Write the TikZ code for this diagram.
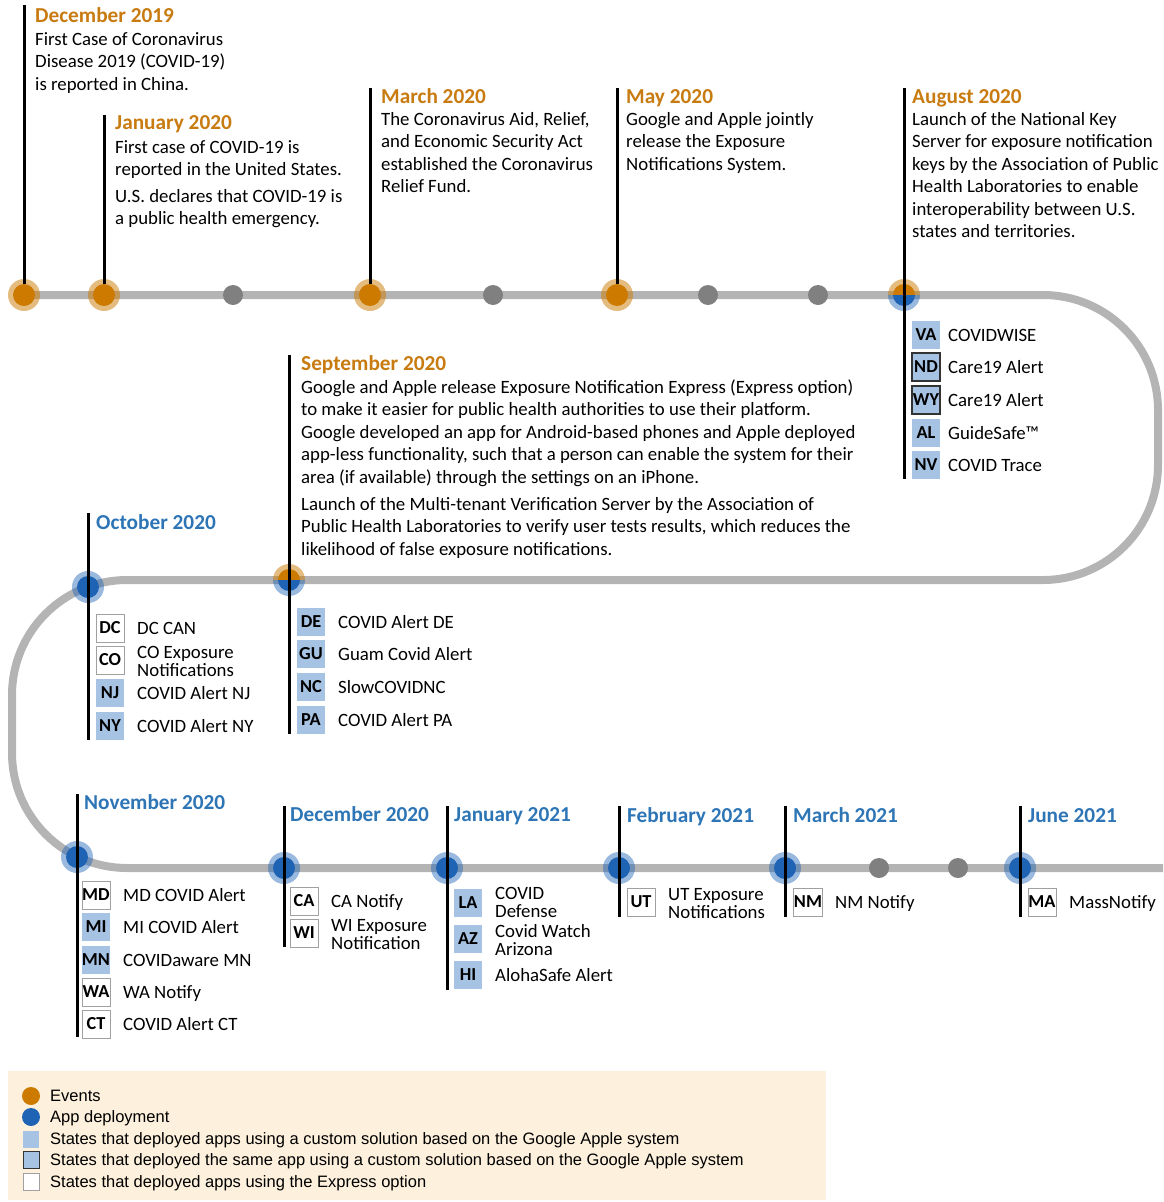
\documentclass[tikz,border=0pt]{standalone}
\usepackage{fontspec}
\setmainfont{Carlito}
\newfontfamily\legfont{Liberation Sans}
\definecolor{evorange}{RGB}{204,122,0}
\definecolor{hdorange}{RGB}{200,123,16}
\definecolor{depblue}{RGB}{31,99,181}
\definecolor{hdblue}{RGB}{46,117,182}
\definecolor{trackgray}{RGB}{180,180,180}
\definecolor{dotgray}{RGB}{128,128,128}
\definecolor{statefill}{RGB}{167,195,228}
\definecolor{expborder}{RGB}{160,160,160}
\definecolor{legbg}{RGB}{253,240,220}
\tikzset{
 body/.style={anchor=base west, inner sep=0pt, font=\fontsize{18.8}{22.5}\selectfont},
 hdo/.style={anchor=base west, inner sep=0pt, font=\fontsize{21.3}{25}\selectfont\bfseries, text=hdorange},
 hdb/.style={anchor=base west, inner sep=0pt, font=\fontsize{21.3}{25}\selectfont\bfseries, text=hdblue},
 stemline/.style={line width=3pt, black},
 track/.style={line width=8pt, trackgray, rounded corners=115pt},
 evhalo/.style={circle, fill=evorange, fill opacity=0.5, minimum size=32pt, inner sep=0pt},
 evdot/.style={circle, fill=evorange, minimum size=22pt, inner sep=0pt},
 dphalo/.style={circle, fill=depblue, fill opacity=0.45, minimum size=32pt, inner sep=0pt},
 dpdot/.style={circle, fill=depblue, minimum size=22pt, inner sep=0pt},
 gdot/.style={circle, fill=dotgray, minimum size=20pt, inner sep=0pt},
 stbase/.style={minimum width=28pt, minimum height=28pt, inner sep=0pt, font=\fontsize{18.3}{20}\selectfont\bfseries},
 custom/.style={stbase, fill=statefill},
 sameapp/.style={stbase, fill=statefill, draw=black!80, line width=1.3pt},
 express/.style={stbase, fill=white, draw=expborder, line width=1pt},
 appname/.style={anchor=base west, inner sep=0pt, font=\fontsize{18.8}{18}\selectfont},
 legtext/.style={anchor=base west, inner sep=0pt, font=\legfont\fontsize{16.5}{18}\selectfont},
}
\begin{document}
\begin{tikzpicture}[x=1pt, y=-1pt]
\useasboundingbox (0,0) rectangle (1163,1202);
% track
\draw[track] (24,295) -- (1158,295) -- (1158,580) -- (12,580) -- (12,868) -- (1163,868);

% halos
\node[evhalo] (hDec19) at (24,295) {};
\node[evhalo] (hJan20) at (104,295) {};
\node[evhalo] (hMar20) at (370,295) {};
\node[evhalo] (hMay20) at (617,295) {};
\fill[evorange, opacity=0.5] (904,295) ++(16,0) arc[start angle=0, end angle=-180, radius=16] -- cycle;
\fill[depblue, opacity=0.45] (904,295) ++(16,0) arc[start angle=0, end angle=180, radius=16] -- cycle;
\fill[evorange, opacity=0.5] (289,580) ++(16,0) arc[start angle=0, end angle=-180, radius=16] -- cycle;
\fill[depblue, opacity=0.45] (289,580) ++(16,0) arc[start angle=0, end angle=180, radius=16] -- cycle;
\node[dphalo] (hOct20) at (88,587) {};
\node[dphalo] (hNov20) at (77,857) {};
\node[dphalo] (hDec20) at (284,868) {};
\node[dphalo] (hJan21) at (447,868) {};
\node[dphalo] (hFeb21) at (619,868) {};
\node[dphalo] (hMar21) at (785,868) {};
\node[dphalo] (hJun21) at (1020,868) {};

% inner dots
\node[evdot] (dDec19) at (24,295) {};
\node[evdot] (dJan20) at (104,295) {};
\node[evdot] (dMar20) at (370,295) {};
\node[evdot] (dMay20) at (617,295) {};
\coordinate (dAug20) at (904,295);
\fill[evorange] (dAug20) ++(11,0) arc[start angle=0, end angle=-180, radius=11] -- cycle;
\fill[depblue] (dAug20) ++(11,0) arc[start angle=0, end angle=180, radius=11] -- cycle;
\coordinate (dSep20) at (289,580);
\fill[evorange] (dSep20) ++(11,0) arc[start angle=0, end angle=-180, radius=11] -- cycle;
\fill[depblue] (dSep20) ++(11,0) arc[start angle=0, end angle=180, radius=11] -- cycle;
\node[dpdot] (dOct20) at (88,587) {};
\node[dpdot] (dNov20) at (77,857) {};
\node[dpdot] (dDec20) at (284,868) {};
\node[dpdot] (dJan21) at (447,868) {};
\node[dpdot] (dFeb21) at (619,868) {};
\node[dpdot] (dMar21) at (785,868) {};
\node[dpdot] (dJun21) at (1020,868) {};
% gray dots
\node[gdot] (g1) at (233,295) {};
\node[gdot] (g2) at (493,295) {};
\node[gdot] (g3) at (708,295) {};
\node[gdot] (g4) at (818,295) {};
\node[gdot] (g5) at (879,868) {};
\node[gdot] (g6) at (958,868) {};

% stems
\coordinate (tDec19) at (24,5);
\coordinate (tJan20) at (104,115);
\coordinate (tMar20) at (370,88);
\coordinate (tMay20) at (617,88);
\coordinate (tAug20) at (904,88);   \coordinate (bAug20) at (904,479);
\coordinate (tSep20) at (289,355);  \coordinate (bSep20) at (289,734);
\coordinate (tOct20) at (88,513);   \coordinate (bOct20) at (88,740);
\coordinate (tNov20) at (77,794);   \coordinate (bNov20) at (77,1037);
\coordinate (tDec20) at (284,806);  \coordinate (bDec20) at (284,947);
\coordinate (tJan21) at (447,806);  \coordinate (bJan21) at (447,990);
\coordinate (tFeb21) at (619,806);  \coordinate (bFeb21) at (619,917);
\coordinate (tMar21) at (785,806);  \coordinate (bMar21) at (785,917);
\coordinate (tJun21) at (1020,806); \coordinate (bJun21) at (1020,917);
\draw[stemline] (tDec19) -- (dDec19.north);
\draw[stemline] (tJan20) -- (dJan20.north);
\draw[stemline] (tMar20) -- (dMar20.north);
\draw[stemline] (tMay20) -- (dMay20.north);
\draw[stemline] (tAug20) -- (dAug20) -- (bAug20);
\draw[stemline] (tSep20) -- (dSep20) -- (bSep20);
\draw[stemline] (tOct20) -- (dOct20.center) -- (bOct20);
\draw[stemline] (tNov20) -- (dNov20.center) -- (bNov20);
\draw[stemline] (tDec20) -- (dDec20.center) -- (bDec20);
\draw[stemline] (tJan21) -- (dJan21.center) -- (bJan21);
\draw[stemline] (tFeb21) -- (dFeb21.center) -- (bFeb21);
\draw[stemline] (tMar21) -- (dMar21.center) -- (bMar21);
\draw[stemline] (tJun21) -- (dJun21.center) -- (bJun21);

% ---- event texts
\node[hdo] (hdDec19) at (35,22) {December 2019};
\node[body] at (35,45) {First Case of Coronavirus};
\node[body] at (35,67.5) {Disease 2019 (COVID-19)};
\node[body] at (35,90) {is reported in China.};

\node[hdo] (hdJan20) at (115,129) {January 2020};
\node[body] at (115,153) {First case of COVID-19 is};
\node[body] at (115,175.5) {reported in the United States.};
\node[body] at (115,202) {U.S. declares that COVID-19 is};
\node[body] at (115,224.5) {a public health emergency.};

\node[hdo] (hdMar20) at (381,103) {March 2020};
\node[body] at (381,125) {The Coronavirus Aid, Relief,};
\node[body] at (381,147.5) {and Economic Security Act};
\node[body] at (381,170) {established the Coronavirus};
\node[body] at (381,192.5) {Relief Fund.};

\node[hdo] (hdMay20) at (626,103) {May 2020};
\node[body] at (626,125) {Google and Apple jointly};
\node[body] at (626,147.5) {release the Exposure};
\node[body] at (626,170) {Notifications System.};

\node[hdo] (hdAug20) at (912,103) {August 2020};
\node[body] at (912,125) {Launch of the National Key};
\node[body] at (912,147.5) {Server for exposure notification};
\node[body] at (912,170) {keys by the Association of Public};
\node[body] at (912,192.5) {Health Laboratories to enable};
\node[body] at (912,215) {interoperability between U.S.};
\node[body] at (912,237.5) {states and territories.};

\node[hdo] (hdSep20) at (301,370) {September 2020};
\node[body] at (301,393) {Google and Apple release Exposure Notification Express (Express option)};
\node[body] at (301,415.5) {to make it easier for public health authorities to use their platform.};
\node[body] at (301,438) {Google developed an app for Android-based phones and Apple deployed};
\node[body] at (301,460.5) {app-less functionality, such that a person can enable the system for their};
\node[body] at (301,483) {area (if available) through the settings on an iPhone.};
\node[body] at (301,510) {Launch of the Multi-tenant Verification Server by the Association of};
\node[body] at (301,532.5) {Public Health Laboratories to verify user tests results, which reduces the};
\node[body] at (301,555) {likelihood of false exposure notifications.};

% ---- deployment headings
\node[hdb] (hdOct20) at (96,529) {October 2020};
\node[hdb] (hdNov20) at (84,809) {November 2020};
\node[hdb] (hdDec20) at (290,821) {December 2020};
\node[hdb] (hdJan21) at (454,821) {January 2021};
\node[hdb] (hdFeb21) at (627,822) {February 2021};
\node[hdb] (hdMar21) at (793,822) {March 2021};
\node[hdb] (hdJun21) at (1028,822) {June 2021};

% ---- August 2020 states
\node[custom]  (VA) at (926,335) {VA};  \node[appname] at (948,341) {COVIDWISE};
\node[sameapp] (ND) at (926,367) {ND};  \node[appname] at (948,373) {Care19 Alert};
\node[sameapp] (WY) at (926,400) {WY};  \node[appname] at (948,406) {Care19 Alert};
\node[custom]  (AL) at (926,433) {AL};  \node[appname] at (948,439) {GuideSafe™};
\node[custom]  (NV) at (926,465) {NV};  \node[appname] at (948,471) {COVID Trace};

% ---- September 2020 states
\node[custom] (DE) at (311,622) {DE}; \node[appname] at (338,628) {COVID Alert DE};
\node[custom] (GU) at (311,654) {GU}; \node[appname] at (338,660) {Guam Covid Alert};
\node[custom] (NC) at (311,687) {NC}; \node[appname] at (338,693) {SlowCOVIDNC};
\node[custom] (PA) at (311,720) {PA}; \node[appname] at (338,726) {COVID Alert PA};

% ---- October 2020 states
\node[express] (DC) at (110,628) {DC}; \node[appname] at (137,634) {DC CAN};
\node[express] (CO) at (110,660) {CO}; \node[appname] at (137,658) {CO Exposure};
                                       \node[appname] at (137,676) {Notifications};
\node[custom]  (NJ) at (110,693) {NJ}; \node[appname] at (137,699) {COVID Alert NJ};
\node[custom]  (NY) at (110,726) {NY}; \node[appname] at (137,732) {COVID Alert NY};

% ---- November 2020 states
\node[express] (MD) at (96,895) {MD};  \node[appname] at (123,901) {MD COVID Alert};
\node[custom]  (MI) at (96,927) {MI};  \node[appname] at (123,933) {MI COVID Alert};
\node[custom]  (MN) at (96,960) {MN};  \node[appname] at (123,966) {COVIDaware MN};
\node[express] (WA) at (96,992) {WA};  \node[appname] at (123,998) {WA Notify};
\node[express] (CT) at (96,1024) {CT}; \node[appname] at (123,1030) {COVID Alert CT};

% ---- December 2020 states
\node[express] (CA) at (304,901) {CA}; \node[appname] at (331,907) {CA Notify};
\node[express] (WI) at (304,933) {WI}; \node[appname] at (331,931) {WI Exposure};
                                       \node[appname] at (331,949) {Notification};

% ---- January 2021 states
\node[custom] (LA) at (468,903) {LA}; \node[appname] at (495,899) {COVID};
                                      \node[appname] at (495,917) {Defense};
\node[custom] (AZ) at (468,939) {AZ}; \node[appname] at (495,937) {Covid Watch};
                                      \node[appname] at (495,955) {Arizona};
\node[custom] (HI) at (468,975) {HI}; \node[appname] at (495,981) {AlohaSafe Alert};

% ---- February / March / June 2021 states
\node[express] (UT) at (641,902) {UT};  \node[appname] at (668,900) {UT Exposure};
                                        \node[appname] at (668,918) {Notifications};
\node[express] (NM) at (808,902) {NM};  \node[appname] at (835,908) {NM Notify};
\node[express] (MA) at (1042,902) {MA}; \node[appname] at (1069,908) {MassNotify};

% ---- legend
\node[draw=none, fill=legbg, minimum width=818pt, minimum height=129pt, inner sep=0pt, anchor=north west] (legend) at (8,1071) {};
\node[circle, fill=evorange, minimum size=18pt, inner sep=0pt] (lgEv) at (31,1096) {};
\node[legtext] at (50,1101) {Events};
\node[circle, fill=depblue, minimum size=18pt, inner sep=0pt] (lgDp) at (31,1117) {};
\node[legtext] at (50,1122) {App deployment};
\node[fill=statefill, minimum width=16pt, minimum height=17pt, inner sep=0pt] (lgCu) at (31,1139) {};
\node[legtext] at (50,1144) {States that deployed apps using a custom solution based on the Google Apple system};
\node[fill=statefill, draw=black!80, line width=1pt, minimum width=16pt, minimum height=17pt, inner sep=0pt] (lgSa) at (31,1160) {};
\node[legtext] at (50,1165) {States that deployed the same app using a custom solution based on the Google Apple system};
\node[fill=white, draw=expborder, line width=1pt, minimum width=16pt, minimum height=17pt, inner sep=0pt] (lgEx) at (31,1182) {};
\node[legtext] at (50,1187) {States that deployed apps using the Express option};
\end{tikzpicture}
\end{document}
